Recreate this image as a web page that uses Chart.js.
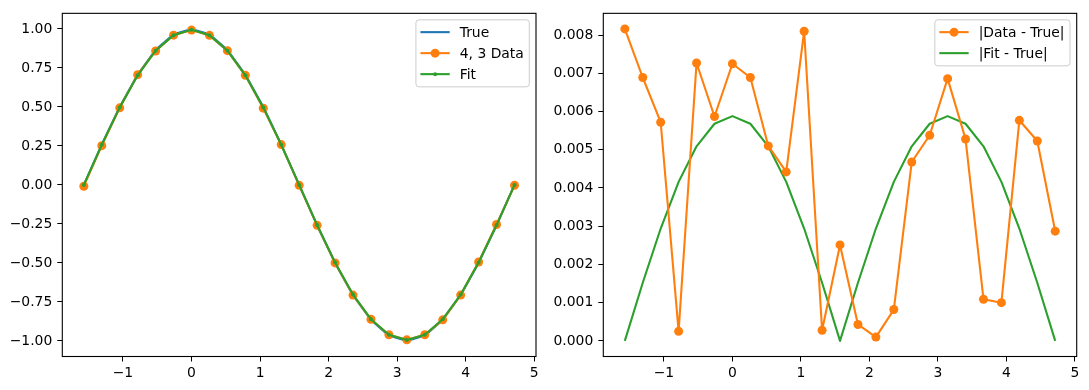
<!DOCTYPE html>
<html>
<head>
<meta charset="utf-8">
<script src="https://cdn.jsdelivr.net/npm/chart.js@4.4.0/dist/chart.umd.min.js"></script>
<style>
  body { margin: 0; background: #fff; }
  canvas { position: absolute; top: 0; }
  #leftChart { left: 0; }
  #rightChart { left: 545px; }
</style>
</head>
<body>
<canvas id="leftChart" width="545" height="390"></canvas>
<canvas id="rightChart" width="544" height="390"></canvas>
<script>
// sample positions (x)
const xs = [-1.5708, -1.3090, -1.0472, -0.7854, -0.5236, -0.2618, 0, 0.2618, 0.5236, 0.7854,
    1.0472, 1.3090, 1.5708, 1.8326, 2.0944, 2.3562, 2.6180, 2.8798, 3.1416, 3.4034,
    3.6652, 3.9270, 4.1888, 4.4506, 4.7124];

const trueVals = [0, 0.2588, 0.5, 0.7071, 0.8660, 0.9659, 1, 0.9659, 0.8660, 0.7071,
    0.5, 0.2588, 0, -0.2588, -0.5, -0.7071, -0.8660, -0.9659, -1, -0.9659,
    -0.8660, -0.7071, -0.5, -0.2588, 0];

const dataVals = [-0.0082, 0.2519, 0.4943, 0.7068, 0.8587, 0.9600, 0.9928, 0.9590, 0.8609, 0.7027,
    0.4919, 0.2585, -0.0025, -0.2592, -0.5001, -0.7063, -0.8613, -0.9605, -0.9931, -0.9606,
    -0.8649, -0.7061, -0.4942, -0.2536, -0.0029];

const fitVals = [0, 0.2573, 0.4971, 0.7029, 0.8609, 0.9602, 0.9941, 0.9602, 0.8609, 0.7029,
    0.4971, 0.2573, 0, -0.2573, -0.4971, -0.7029, -0.8609, -0.9602, -0.9941, -0.9602,
    -0.8609, -0.7029, -0.4971, -0.2573, 0];

const dataErr = [0.00816, 0.00689, 0.00572, 0.00025, 0.00727, 0.00587, 0.00725, 0.00689, 0.00510, 0.00442,
    0.00810, 0.00028, 0.00251, 0.00043, 0.00010, 0.00082, 0.00468, 0.00538, 0.00686, 0.00528,
    0.00109, 0.00100, 0.00577, 0.00523, 0.00287];

const fitErr = [0, 0.00152, 0.00294, 0.00416, 0.00509, 0.00568, 0.00588, 0.00568, 0.00509, 0.00416,
    0.00294, 0.00152, 0, 0.00152, 0.00294, 0.00416, 0.00509, 0.00568, 0.00588, 0.00568,
    0.00509, 0.00416, 0.00294, 0.00152, 0];

const xTicks = [-1, 0, 1, 2, 3, 4, 5];
const leftYTicks = [-1, -0.75, -0.5, -0.25, 0, 0.25, 0.5, 0.75, 1];
const rightYTicks = [0, 0.001, 0.002, 0.003, 0.004, 0.005, 0.006, 0.007, 0.008];

const FONT = '"DejaVu Sans", sans-serif';
const BLUE = '#1f77b4', ORANGE = '#ff7f0e', GREEN = '#2ca02c';

function pts(ys) {
    return xs.map((x, i) => ({ x: x, y: ys[i] }));
}

function minus(s) {
    return s.replace('-', '\u2212');
}

function axis(ticks, min, max, fmt, pos, size) {
    return {
        type: 'linear',
        position: pos,
        min: min,
        max: max,
        afterBuildTicks: s => { s.ticks = ticks.map(v => ({ value: v })); },
        afterFit: s => {
            if (pos === 'left') s.width = size; else s.height = size;
        },
        grid: { drawOnChartArea: false, tickLength: 5, tickColor: '#000', tickWidth: 1 },
        border: { display: false },
        ticks: {
            color: '#000',
            padding: pos === 'left' ? 5 : 4,
            maxRotation: 0,
            autoSkip: false,
            font: { family: FONT, size: 13.9 },
            callback: v => fmt(v)
        }
    };
}

// frame around plot area plus a matplotlib-like legend in the top right corner
const framePlugin = {
    id: 'frame',
    afterDraw(chart) {
        const ctx = chart.ctx, a = chart.chartArea;
        ctx.save();
        ctx.strokeStyle = '#000';
        ctx.lineWidth = 1.1;
        ctx.strokeRect(a.left, a.top, a.right - a.left, a.bottom - a.top);

        const items = chart.options.plugins.frame.items;
        ctx.font = '13.9px ' + FONT;
        let tw = 0;
        items.forEach(it => { tw = Math.max(tw, ctx.measureText(it.label).width); });
        const w = 4.5 + 29.3 + 10 + tw + 5.5;
        const h = 4 + items.length * 21;
        const bx = a.right - 6.7 - w, by = a.top + 6.5;
        ctx.beginPath();
        ctx.roundRect(bx, by, w, h, 3);
        ctx.fillStyle = 'rgba(255,255,255,0.8)';
        ctx.fill();
        ctx.strokeStyle = '#cccccc';
        ctx.lineWidth = 1;
        ctx.stroke();

        items.forEach((it, i) => {
            const y = by + 12.3 + i * 21;
            ctx.strokeStyle = it.color;
            ctx.lineWidth = 2.1;
            ctx.beginPath();
            ctx.moveTo(bx + 4.5, y);
            ctx.lineTo(bx + 33.8, y);
            ctx.stroke();
            if (it.r) {
                ctx.fillStyle = it.color;
                ctx.beginPath();
                ctx.arc(bx + 19.2, y, it.r, 0, Math.PI * 2);
                ctx.fill();
            }
            ctx.fillStyle = '#000';
            ctx.textBaseline = 'middle';
            ctx.fillText(it.label, bx + 43.8, y + 1);
        });
        ctx.restore();
    }
};

function line(label, ys, color, r, order) {
    return {
        label: label,
        data: pts(ys),
        borderColor: color,
        backgroundColor: color,
        borderWidth: 2.1,
        borderJoinStyle: 'round',
        pointRadius: r,
        pointBorderWidth: 0,
        pointHoverRadius: r,
        tension: 0,
        order: order
    };
}

new Chart(document.getElementById('leftChart'), {
    type: 'line',
    data: {
        datasets: [
            line('True', trueVals, BLUE, 0, 3),
            line('4, 3 Data', dataVals, ORANGE, 4.5, 2),
            line('Fit', fitVals, GREEN, 2, 1)
        ]
    },
    options: {
        responsive: false,
        animation: false,
        layout: { padding: { left: 0, right: 9, top: 10.3, bottom: 0 } },
        scales: {
            x: axis(xTicks, -1.885, 5.026, v => minus(String(v)), 'bottom', 33.5),
            y: axis(leftYTicks, -1.1, 1.1, v => minus(v.toFixed(2)), 'left', 62.3)
        },
        plugins: {
            legend: { display: false },
            tooltip: { enabled: false },
            frame: {
                items: [
                    { label: 'True', color: BLUE, r: 0 },
                    { label: '4, 3 Data', color: ORANGE, r: 4.5 },
                    { label: 'Fit', color: GREEN, r: 2 }
                ]
            }
        }
    },
    plugins: [framePlugin]
});

new Chart(document.getElementById('rightChart'), {
    type: 'line',
    data: {
        datasets: [
            line('|Data - True|', dataErr, ORANGE, 4.5, 1),
            line('|Fit - True|', fitErr, GREEN, 0, 2)
        ]
    },
    options: {
        responsive: false,
        animation: false,
        layout: { padding: { left: 0, right: 12.3, top: 10.3, bottom: 0 } },
        scales: {
            x: axis(xTicks, -1.885, 5.026, v => minus(String(v)), 'bottom', 33.5),
            y: axis(rightYTicks, -0.000408, 0.008568, v => v.toFixed(3), 'left', 58.3)
        },
        plugins: {
            legend: { display: false },
            tooltip: { enabled: false },
            frame: {
                items: [
                    { label: '|Data - True|', color: ORANGE, r: 4.5 },
                    { label: '|Fit - True|', color: GREEN, r: 0 }
                ]
            }
        }
    },
    plugins: [framePlugin]
});
</script>
</body>
</html>
